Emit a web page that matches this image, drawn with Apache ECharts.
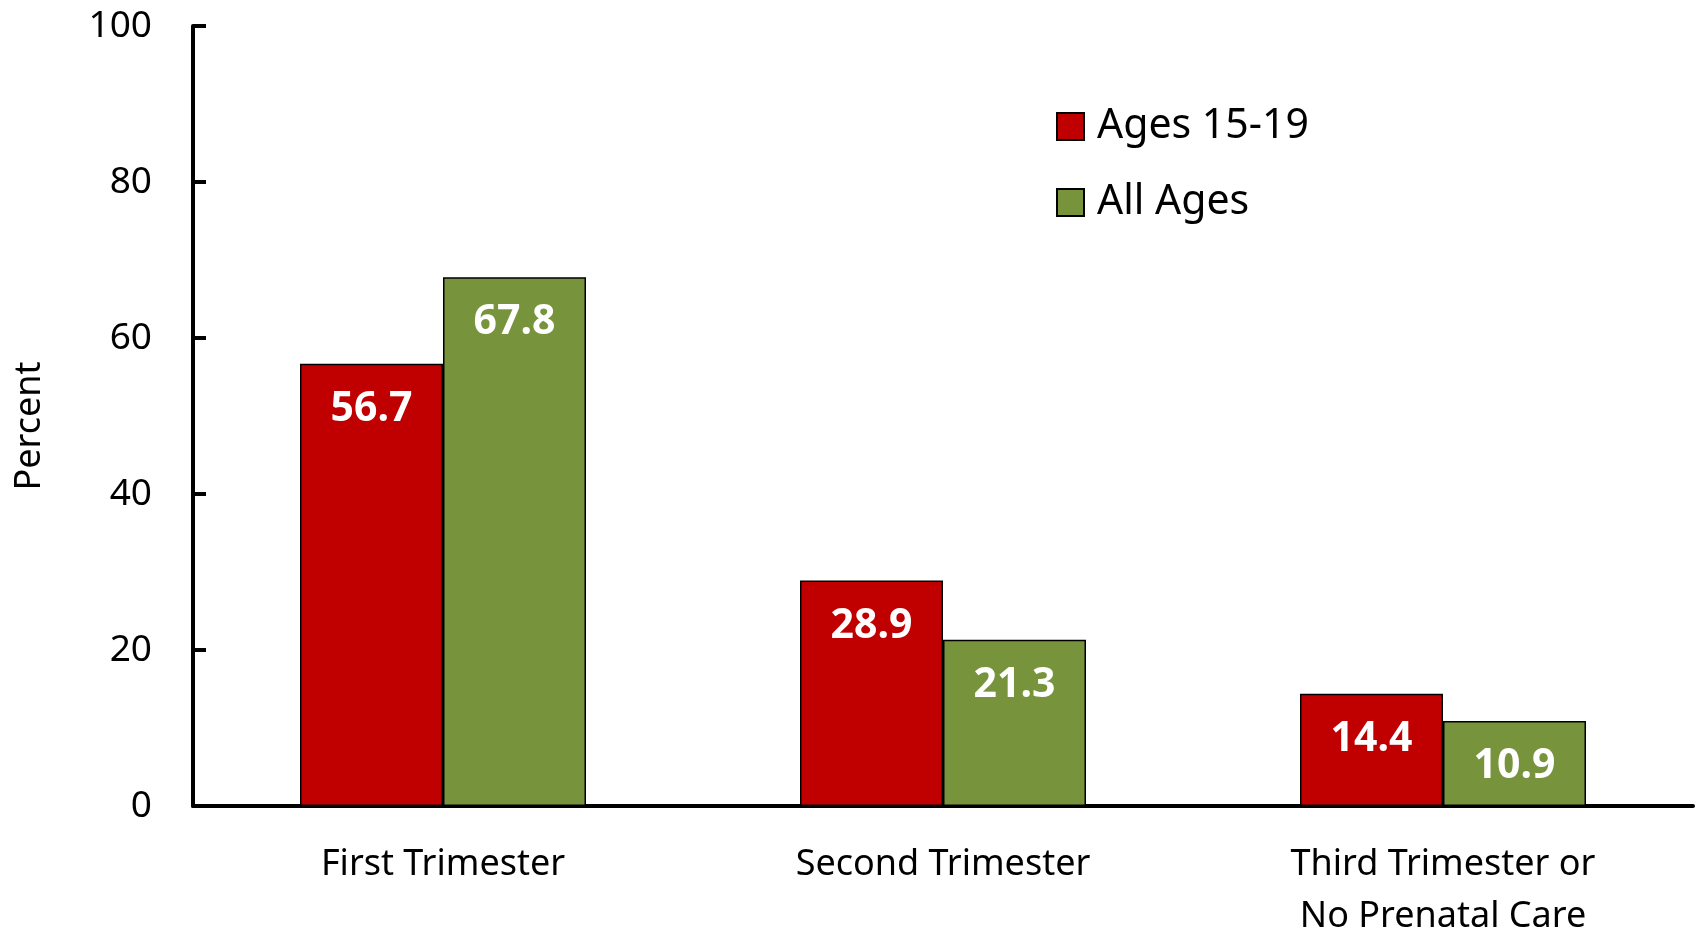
<!DOCTYPE html>
<html>
<head>
<meta charset="utf-8">
<script src="https://cdn.jsdelivr.net/npm/echarts@6/dist/echarts.min.js"></script>
<style>
  html, body { margin: 0; padding: 0; background: #fff; }
  #main { width: 1698px; height: 930px; }
</style>
</head>
<body>
<div id="main"></div>
<script>
// data
const categories = ['First Trimester', 'Second Trimester', 'Third Trimester or\nNo Prenatal Care'];
const seriesNames = ['Ages 15-19', 'All Ages'];
const teenValues = [56.7, 28.9, 14.4];
const allValues = [67.8, 21.3, 10.9];

const chart = echarts.init(document.getElementById('main'));
const font = '"Noto Sans", sans-serif';

const barLabel = {
    show: true,
    position: 'insideTop',
    distance: 25,
    color: '#fff',
    fontWeight: 'bold',
    fontSize: 41,
    fontFamily: font,
    formatter: p => p.value.toFixed(1)
};

const option = {
    animation: false,
    grid: { left: 193, right: 5, top: 26, bottom: 124, outerBoundsMode: 'none', containLabel: false },
    legend: {
        orient: 'vertical',
        left: 1051,
        top: 101,
        itemWidth: 27,
        itemHeight: 27,
        itemGap: 35,
        icon: 'rect',
        textStyle: { fontSize: 41, color: '#000', fontFamily: font, padding: [0, 0, 0, 8] },
        data: seriesNames
    },
    xAxis: {
        type: 'category',
        data: categories,
        axisLine: { lineStyle: { color: '#000', width: 4 } },
        axisTick: { show: false },
        axisLabel: { color: '#000', fontSize: 36, fontFamily: font, margin: 33, lineHeight: 52, interval: 0 }
    },
    yAxis: {
        type: 'value',
        min: 0,
        max: 100,
        interval: 20,
        name: 'Percent',
        nameLocation: 'middle',
        nameGap: 145,
        nameTextStyle: { fontSize: 36, color: '#000', fontFamily: font, padding: [0, 20, 0, 0] },
        axisLine: { show: true, lineStyle: { color: '#000', width: 4 } },
        axisTick: { show: true, inside: true, length: 13, lineStyle: { color: '#000', width: 4 } },
        axisLabel: { color: '#000', fontSize: 37, fontFamily: font, margin: 41 },
        splitLine: { show: false }
    },
    series: [
        {
            name: seriesNames[0],
            type: 'bar',
            data: teenValues,
            barWidth: 143,
            barGap: '0%',
            itemStyle: { color: '#C00000', borderColor: '#000', borderWidth: 1.5 },
            label: barLabel
        },
        {
            name: seriesNames[1],
            type: 'bar',
            data: allValues,
            barWidth: 143,
            itemStyle: { color: '#77933C', borderColor: '#000', borderWidth: 1.5 },
            label: barLabel
        }
    ]
};

chart.setOption(option);
window.addEventListener('resize', function () { chart.resize(); });
</script>
</body>
</html>
